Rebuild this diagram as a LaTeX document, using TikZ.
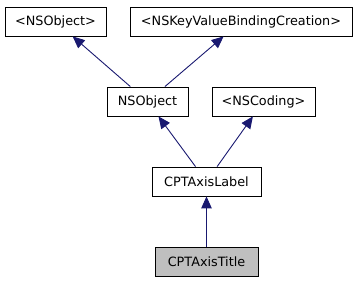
\documentclass[tikz,border=0pt]{standalone}
\usepackage{fontspec}
\setmainfont{DejaVu Sans}
\usepackage{tikz}
\usetikzlibrary{arrows.meta}
\definecolor{edgeblue}{RGB}{25,25,112}
\definecolor{boxgray}{RGB}{191,191,191}

\tikzset{
  classbox/.style={draw=black, line width=0.8pt, rectangle, inner sep=0pt,
    minimum height=29pt, font=\fontsize{12.8}{14}\selectfont},
  inherit/.style={draw=edgeblue, line width=0.9pt,
    -{Triangle[length=12pt,width=10.5pt]}},
}

\begin{document}
\begin{tikzpicture}[x=1pt,y=-1pt]
\useasboundingbox (0,0) rectangle (357,283);
% top row
\node[classbox, minimum width=101pt] (nsproto) at (55.5,21.5) {<NSObject>};
\node[classbox, minimum width=222pt] (kvbc) at (241,21.5) {<NSKeyValueBindingCreation>};
% middle row
\node[classbox, minimum width=81pt] (nsobj) at (147.5,101.5) {NSObject};
\node[classbox, minimum width=103pt] (nscoding) at (263.5,101.5) {<NSCoding>};
% label and title
\node[classbox, minimum width=109pt] (axislabel) at (206.5,181.5) {CPTAxisLabel};
\node[classbox, minimum width=103pt, fill=boxgray] (axistitle) at (206.5,261.5) {CPTAxisTitle};

\draw[inherit] (nsobj) -- (nsproto);
\draw[inherit] (nsobj) -- (kvbc);
\draw[inherit] (axislabel) -- (nsobj);
\draw[inherit] (axislabel) -- (nscoding);
\draw[inherit] (axistitle) -- (axislabel);
\end{tikzpicture}
\end{document}
